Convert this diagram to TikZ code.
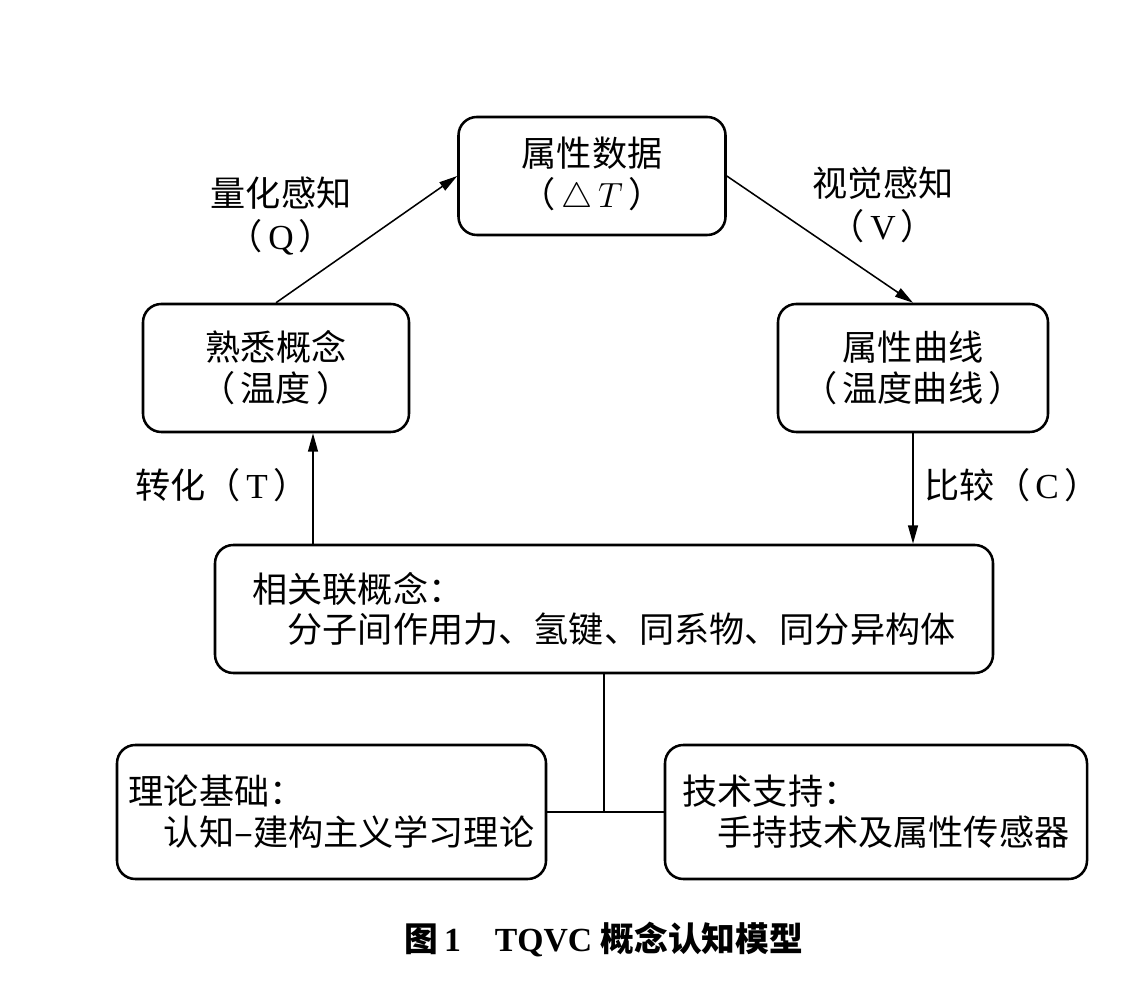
\documentclass[tikz,border=0pt]{standalone}
\usepackage{fontspec}
\setmainfont{Liberation Serif}
\newfontfamily\cjk{Noto Sans CJK SC}
\usetikzlibrary{arrows.meta,positioning,calc}
\tikzset{
  cbox/.style={draw,rectangle,rounded corners=13pt,line width=1.8pt,align=center,inner sep=0pt,font={\cjk\fontsize{25}{29}\selectfont}},
  lbox/.style={cbox,align=left},
  arr/.style={-{Triangle[length=13pt,width=7pt]},line width=1.1pt},
  link/.style={line width=1pt},
  lbl/.style={align=center,font={\cjk\fontsize{25}{31}\selectfont}}
}
\newcommand{\lat}[1]{{\rmfamily #1}}
\newcommand{\pa}[1]{（\hspace{0.15em}#1\hspace{0.15em}）}

\begin{document}
\begin{tikzpicture}
  \useasboundingbox (0,0) rectangle (28.175,24.65);

  \node[cbox, minimum width=6.675cm, minimum height=2.95cm] (attr) at (14.8,20.25) {属性数据\\\pa{$\triangle\,T$}};
  \node[cbox, minimum width=6.65cm, minimum height=3.2cm] (fam) at (6.9,15.45) {熟悉概念\\\pa{温度}};
  \node[cbox, minimum width=6.75cm, minimum height=3.2cm] (curve) at (22.825,15.45) {属性曲线\\\pa{温度曲线}};
  \node[lbox, minimum width=19.45cm, minimum height=3.2cm] (rel) at (15.1,9.425) {相关联概念：\\\hspace*{1em}分子间作用力、氢键、同系物、同分异构体};
  \node[lbox, minimum width=10.725cm, minimum height=3.35cm] (theory) at (8.2875,4.35) {理论基础：\\\hspace*{1em}认知–建构主义学习理论};
  \node[lbox, minimum width=10.55cm, minimum height=3.35cm] (tech) at (21.9,4.35) {技术支持：\\\hspace*{1em}手持技术及属性传感器};

  \draw[arr] (fam.north) -- (attr.west);
  \draw[arr] (attr.east) -- (curve.north);
  \coordinate (tfoot) at ([xshift=0.925cm]fam.south);
  \draw[arr] (tfoot |- rel.north) -- (tfoot);
  \draw[arr] (curve.south) -- (curve.south |- rel.north);

  \draw[link] (rel.south) -- (rel.south |- theory.east);
  \draw[link] (theory.east) -- (tech.west);

  \node[lbl] (qlab) at (7.025,19.25) {量化感知\\\pa{\lat{Q}}};
  \node[lbl] (vlab) at (22.075,19.525) {视觉感知\\\pa{\lat{V}}};
  \node[lbl] (tlab) at (5.55,12.525) {转化\pa{\lat{T}}};
  \node[lbl] (clab) at (25.3,12.525) {比较\pa{\lat{C}}};

  \node[font={\fontsize{24}{28}\selectfont\bfseries}] (cap) at (15.1,1.15) {{\cjk 图}\,1\quad TQVC {\cjk 概念认知模型}};
\end{tikzpicture}
\end{document}
